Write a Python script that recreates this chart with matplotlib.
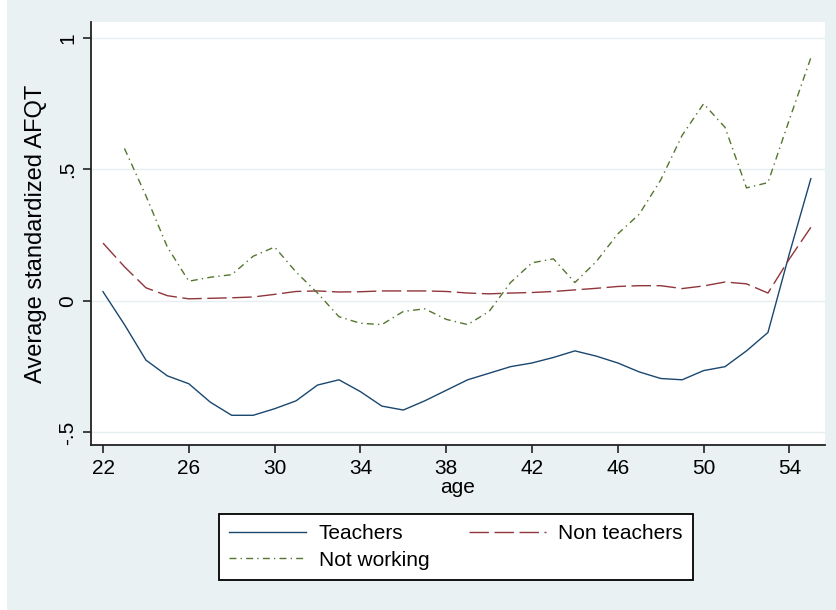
import matplotlib
matplotlib.use("Agg")
import matplotlib.pyplot as plt
from matplotlib.patches import Rectangle

# Average standardized AFQT by age
ages = list(range(22, 56))
teachers = [0.035, -0.09, -0.225, -0.285, -0.315, -0.385, -0.435, -0.435, -0.41, -0.38,
            -0.32, -0.30, -0.345, -0.40, -0.415, -0.38, -0.34, -0.30, -0.275, -0.25,
            -0.236, -0.215, -0.19, -0.21, -0.236, -0.27, -0.295, -0.30, -0.265, -0.25,
            -0.19, -0.12, 0.18, 0.465]
non_teachers = [0.22, 0.13, 0.05, 0.02, 0.008, 0.01, 0.012, 0.015, 0.025, 0.036,
                0.038, 0.034, 0.035, 0.038, 0.038, 0.038, 0.036, 0.03, 0.027, 0.03,
                0.032, 0.036, 0.042, 0.048, 0.055, 0.058, 0.058, 0.047, 0.057, 0.072,
                0.065, 0.03, 0.16, 0.28]
ages_nw = list(range(23, 56))
not_working = [0.58, 0.40, 0.205, 0.075, 0.09, 0.10, 0.17, 0.205, 0.11, 0.03,
               -0.06, -0.085, -0.09, -0.04, -0.03, -0.07, -0.09, -0.04, 0.07, 0.145,
               0.16, 0.07, 0.15, 0.255, 0.33, 0.46, 0.63, 0.75, 0.66, 0.43,
               0.45, 0.69, 0.925]

xticks = [22, 26, 30, 34, 38, 42, 46, 50, 54]
yticks = [-0.5, 0, 0.5, 1]
ytick_labels = ["-.5", "0", ".5", "1"]

plt.rcParams['font.family'] = ['Liberation Sans', 'DejaVu Sans']
plt.rcParams['lines.scale_dashes'] = False

bg = '#eaf1f3'
fig = plt.figure(figsize=(8.36, 6.10), dpi=100, facecolor=bg)
# white strip on the left edge
fig.patches.append(Rectangle((0, 0), 7 / 836, 1, transform=fig.transFigure,
                             facecolor='white', edgecolor='none', zorder=-1))

ax = fig.add_axes([91 / 836, 1 - 445 / 610, (825 - 91) / 836, (445 - 22) / 610])
ax.set_facecolor('white')

l1, = ax.plot(ages, teachers, color='#1a476f', lw=1.0, label='Teachers')
l2, = ax.plot(ages, non_teachers, color='#90353b', lw=1.0, linestyle=(0, (14, 4)),
              label='Non teachers')
l3, = ax.plot(ages_nw, not_working, color='#55752f', lw=1.0, linestyle=(0, (5, 3, 1, 3)),
              label='Not working')

ax.set_xlim(21.44, 55.66)
ax.set_ylim(-0.548, 1.061)
ax.set_xticks(xticks)
ax.set_yticks(yticks)
ax.set_yticklabels(ytick_labels, rotation=90, va='center')
ax.grid(axis='y', color='#e6eef0', lw=1.0)
ax.set_axisbelow(True)

for s in ['top', 'right']:
    ax.spines[s].set_visible(False)
for s in ['left', 'bottom']:
    ax.spines[s].set_linewidth(1.3)
    ax.spines[s].set_color('#222222')
ax.tick_params(axis='both', length=6, width=1.2, color='#222222', labelsize=15, pad=4)

ax.set_xlabel('age', fontsize=15, labelpad=0)
ax.set_ylabel('Average standardized AFQT', fontsize=17, labelpad=8)

# column-wise fill: Teachers / Not working in col 1, Non teachers in col 2
leg = fig.legend([l1, l3, l2], ['Teachers', 'Not working', 'Non teachers'],
                 loc='center', bbox_to_anchor=(456 / 836, 1 - 547 / 610),
                 ncol=2, fontsize=15, frameon=True, fancybox=False, edgecolor='black',
                 facecolor='white', framealpha=1.0,
                 handlelength=3.7, handletextpad=0.6, columnspacing=1.9,
                 labelspacing=0.35, borderpad=0.5)
leg.get_frame().set_linewidth(1.3)

fig.savefig('out.png', dpi=100, facecolor=bg)
